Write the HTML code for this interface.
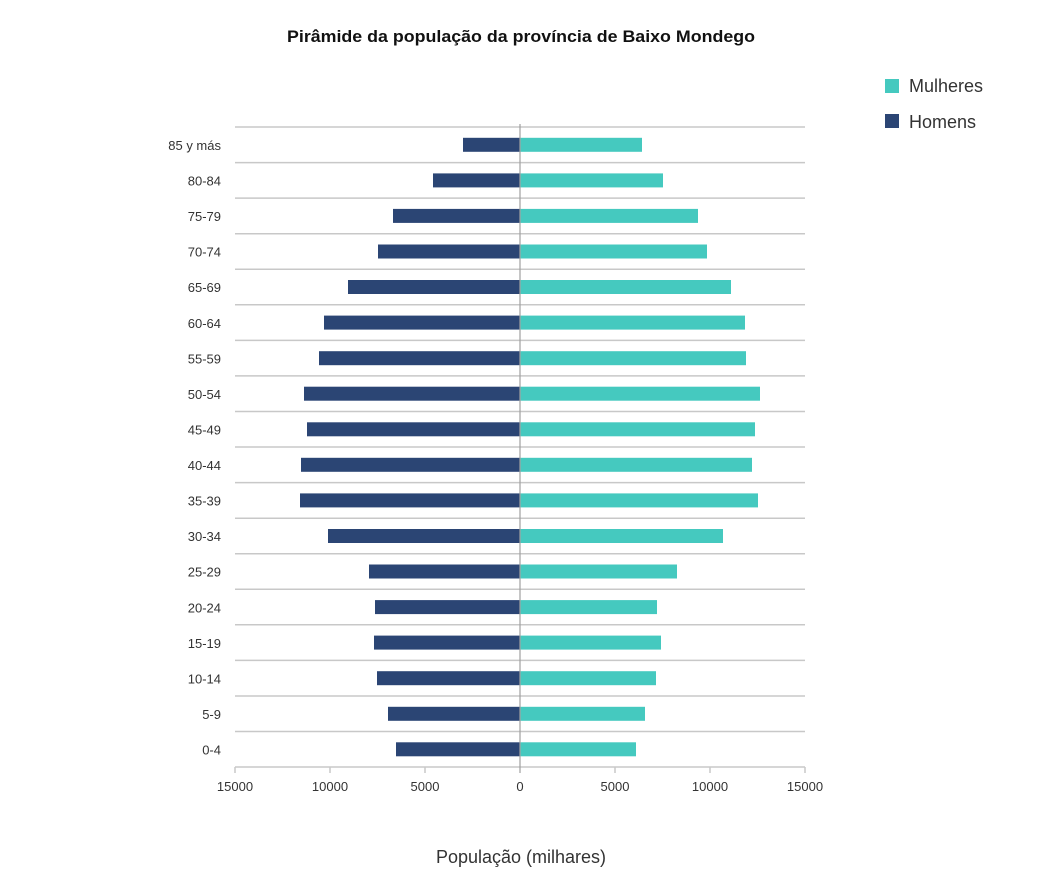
<!DOCTYPE html>
<html><head><meta charset="utf-8"><style>body{margin:0;background:#fff}svg{display:block}</style></head><body>
<svg width="1042" height="895" xmlns="http://www.w3.org/2000/svg" font-family="Liberation Sans, DejaVu Sans, sans-serif">
<text x="521" y="42" text-anchor="middle" font-size="17" font-weight="bold" fill="#111" textLength="468" lengthAdjust="spacingAndGlyphs">Pirâmide da população da província de Baixo Mondego</text>
<rect x="885" y="79" width="14" height="14" fill="#45c9bf"/>
<text x="909" y="92" font-size="18" fill="#333">Mulheres</text>
<rect x="885" y="114" width="14" height="14" fill="#2b4574"/>
<text x="909" y="128" font-size="18" fill="#333">Homens</text>
<g stroke="#c8c8c8" stroke-width="1.5">
<line x1="235" x2="805" y1="127" y2="127"/><line x1="235" x2="805" y1="162.6" y2="162.6"/><line x1="235" x2="805" y1="198.1" y2="198.1"/><line x1="235" x2="805" y1="233.7" y2="233.7"/><line x1="235" x2="805" y1="269.2" y2="269.2"/><line x1="235" x2="805" y1="304.8" y2="304.8"/><line x1="235" x2="805" y1="340.4" y2="340.4"/><line x1="235" x2="805" y1="375.9" y2="375.9"/><line x1="235" x2="805" y1="411.5" y2="411.5"/><line x1="235" x2="805" y1="447" y2="447"/><line x1="235" x2="805" y1="482.6" y2="482.6"/><line x1="235" x2="805" y1="518.2" y2="518.2"/><line x1="235" x2="805" y1="553.7" y2="553.7"/><line x1="235" x2="805" y1="589.3" y2="589.3"/><line x1="235" x2="805" y1="624.8" y2="624.8"/><line x1="235" x2="805" y1="660.4" y2="660.4"/><line x1="235" x2="805" y1="696" y2="696"/><line x1="235" x2="805" y1="731.5" y2="731.5"/><line x1="235" x2="805" y1="767" y2="767"/>
<line x1="235" x2="235" y1="767" y2="773"/><line x1="330" x2="330" y1="767" y2="773"/><line x1="425" x2="425" y1="767" y2="773"/><line x1="615" x2="615" y1="767" y2="773"/><line x1="710" x2="710" y1="767" y2="773"/><line x1="805" x2="805" y1="767" y2="773"/>
</g>
<g fill="#2b4574">
<rect x="463" y="137.8" width="57" height="14"/><rect x="433" y="173.4" width="87" height="14"/><rect x="393" y="208.9" width="127" height="14"/><rect x="378" y="244.5" width="142" height="14"/><rect x="348" y="280" width="172" height="14"/><rect x="324" y="315.6" width="196" height="14"/><rect x="319" y="351.2" width="201" height="14"/><rect x="304" y="386.7" width="216" height="14"/><rect x="307" y="422.3" width="213" height="14"/><rect x="301" y="457.8" width="219" height="14"/><rect x="300" y="493.4" width="220" height="14"/><rect x="328" y="529" width="192" height="14"/><rect x="369" y="564.5" width="151" height="14"/><rect x="375" y="600.1" width="145" height="14"/><rect x="374" y="635.6" width="146" height="14"/><rect x="377" y="671.2" width="143" height="14"/><rect x="388" y="706.8" width="132" height="14"/><rect x="396" y="742.3" width="124" height="14"/>
</g>
<g fill="#45c9bf">
<rect x="520" y="137.8" width="122" height="14"/><rect x="520" y="173.4" width="143" height="14"/><rect x="520" y="208.9" width="178" height="14"/><rect x="520" y="244.5" width="187" height="14"/><rect x="520" y="280" width="211" height="14"/><rect x="520" y="315.6" width="225" height="14"/><rect x="520" y="351.2" width="226" height="14"/><rect x="520" y="386.7" width="240" height="14"/><rect x="520" y="422.3" width="235" height="14"/><rect x="520" y="457.8" width="232" height="14"/><rect x="520" y="493.4" width="238" height="14"/><rect x="520" y="529" width="203" height="14"/><rect x="520" y="564.5" width="157" height="14"/><rect x="520" y="600.1" width="137" height="14"/><rect x="520" y="635.6" width="141" height="14"/><rect x="520" y="671.2" width="136" height="14"/><rect x="520" y="706.8" width="125" height="14"/><rect x="520" y="742.3" width="116" height="14"/>
</g>
<line x1="520" x2="520" y1="124" y2="773" stroke="#a0a0a0" stroke-width="1.2"/>
<g font-size="13" fill="#333" text-anchor="end">
<text x="221" y="150">85 y más</text><text x="221" y="185.6">80-84</text><text x="221" y="221.1">75-79</text><text x="221" y="256.7">70-74</text><text x="221" y="292.2">65-69</text><text x="221" y="327.8">60-64</text><text x="221" y="363.4">55-59</text><text x="221" y="398.9">50-54</text><text x="221" y="434.5">45-49</text><text x="221" y="470">40-44</text><text x="221" y="505.6">35-39</text><text x="221" y="541.2">30-34</text><text x="221" y="576.7">25-29</text><text x="221" y="612.3">20-24</text><text x="221" y="647.8">15-19</text><text x="221" y="683.4">10-14</text><text x="221" y="719">5-9</text><text x="221" y="754.5">0-4</text>
</g>
<g font-size="13" fill="#333" text-anchor="middle">
<text x="235" y="791">15000</text><text x="330" y="791">10000</text><text x="425" y="791">5000</text><text x="520" y="791">0</text><text x="615" y="791">5000</text><text x="710" y="791">10000</text><text x="805" y="791">15000</text>
</g>
<text x="521" y="863" text-anchor="middle" font-size="18" fill="#333">População (milhares)</text>
</svg>
</body></html>
